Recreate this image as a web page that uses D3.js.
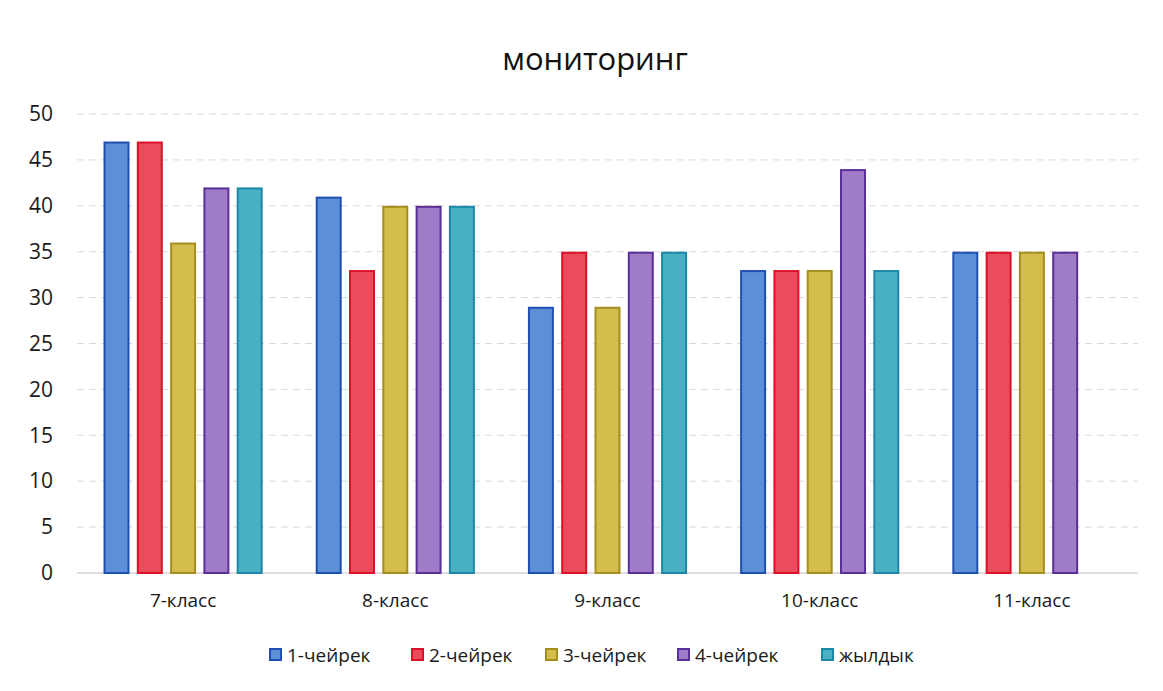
<!DOCTYPE html>
<html><head><meta charset="utf-8">
<script src="https://cdn.jsdelivr.net/npm/d3@7"></script>
<style>body{margin:0;background:#fff}svg{display:block}</style>
</head><body>
<svg id="c" width="1163" height="691"></svg>
<script>
const categories = ["7-класс","8-класс","9-класс","10-класс","11-класс"];
const seriesNames = ["1-чейрек","2-чейрек","3-чейрек","4-чейрек","жылдык"];
const q1 = [47, 41, 29, 33, 35];
const q2 = [47, 33, 35, 33, 35];
const q3 = [36, 40, 29, 33, 35];
const q4 = [42, 40, 35, 44, 35];
const year = [42, 40, 35, 33, null];
const yTicks = [0,5,10,15,20,25,30,35,40,45,50];
const fills = ["#5b8fd8","#ea4c5c","#d3bd4c","#a07bc8","#4ab0c6"];
const strokes = ["#1f4fb0","#dc1028","#a48e1e","#5a2f98","#1a88a6"];

const series = [q1,q2,q3,q4,year];
const svg = d3.select("#c");
const font = "'Open Sans', 'Liberation Sans', sans-serif";
const m = {left:77, right:1138, top:114, bottom:573};

const x0 = d3.scaleBand().domain(categories).range([m.left, m.right]).paddingInner(0.25).paddingOuter(0.125);
const x1 = d3.scaleBand().domain(d3.range(seriesNames.length)).range([0, x0.bandwidth()]).paddingInner(0.22);
const y = d3.scaleLinear().domain([0,50]).range([m.bottom, m.top]);

// gridlines
svg.append("g").selectAll("line").data(yTicks).join("line")
  .attr("x1", m.left).attr("x2", m.right)
  .attr("y1", d=>y(d)).attr("y2", d=>y(d))
  .attr("stroke", d=>d===0?"#c8bcbc":"#e2d6d6").attr("stroke-width",1)
  .attr("stroke-dasharray", d=>d===0?null:"7,5");

// y axis
const ya = svg.append("g").attr("transform",`translate(${m.left},0)`)
  .call(d3.axisLeft(y).tickValues(yTicks).tickSize(0).tickPadding(24));
ya.select(".domain").remove();
ya.selectAll("text").attr("font-family",font).attr("font-size",21).attr("fill","#1a1a1a");

// x axis
const xa = svg.append("g").attr("transform",`translate(0,${m.bottom})`)
  .call(d3.axisBottom(x0).tickSize(0).tickPadding(21));
xa.select(".domain").remove();
xa.selectAll("text").attr("font-family",font).attr("font-size",19).attr("fill","#1a1a1a");

// bars
const rows = [];
categories.forEach((c,ci)=>series.forEach((s,si)=>{ if(s[ci]!=null) rows.push({c, si, v:s[ci]}); }));
svg.append("g").selectAll("rect").data(rows).join("rect")
  .attr("x", d=>x0(d.c)+x1(d.si)+1)
  .attr("y", d=>y(d.v)+1)
  .attr("width", x1.bandwidth()-2)
  .attr("height", d=>y(0)-y(d.v)-1)
  .attr("fill", d=>fills[d.si]).attr("stroke", d=>strokes[d.si]).attr("stroke-width",2);

// title
svg.append("text").attr("x",595).attr("y",70).attr("text-anchor","middle")
  .attr("font-family",font).attr("font-size",31).attr("fill","#111").text("мониторинг");

// legend
const legX = [270, 412, 546, 678, 822];
const lg = svg.append("g").selectAll("g").data(seriesNames).join("g")
  .attr("transform",(d,i)=>`translate(${legX[i]},655)`);
lg.append("rect").attr("x",0).attr("y",-6).attr("width",11).attr("height",11)
  .attr("fill",(d,i)=>fills[i]).attr("stroke",(d,i)=>strokes[i]).attr("stroke-width",2);
lg.append("text").attr("x",17).attr("y",0).attr("dy","0.35em")
  .attr("font-family",font).attr("font-size",19).attr("fill","#1a1a1a").text(d=>d);
</script>
</body></html>
